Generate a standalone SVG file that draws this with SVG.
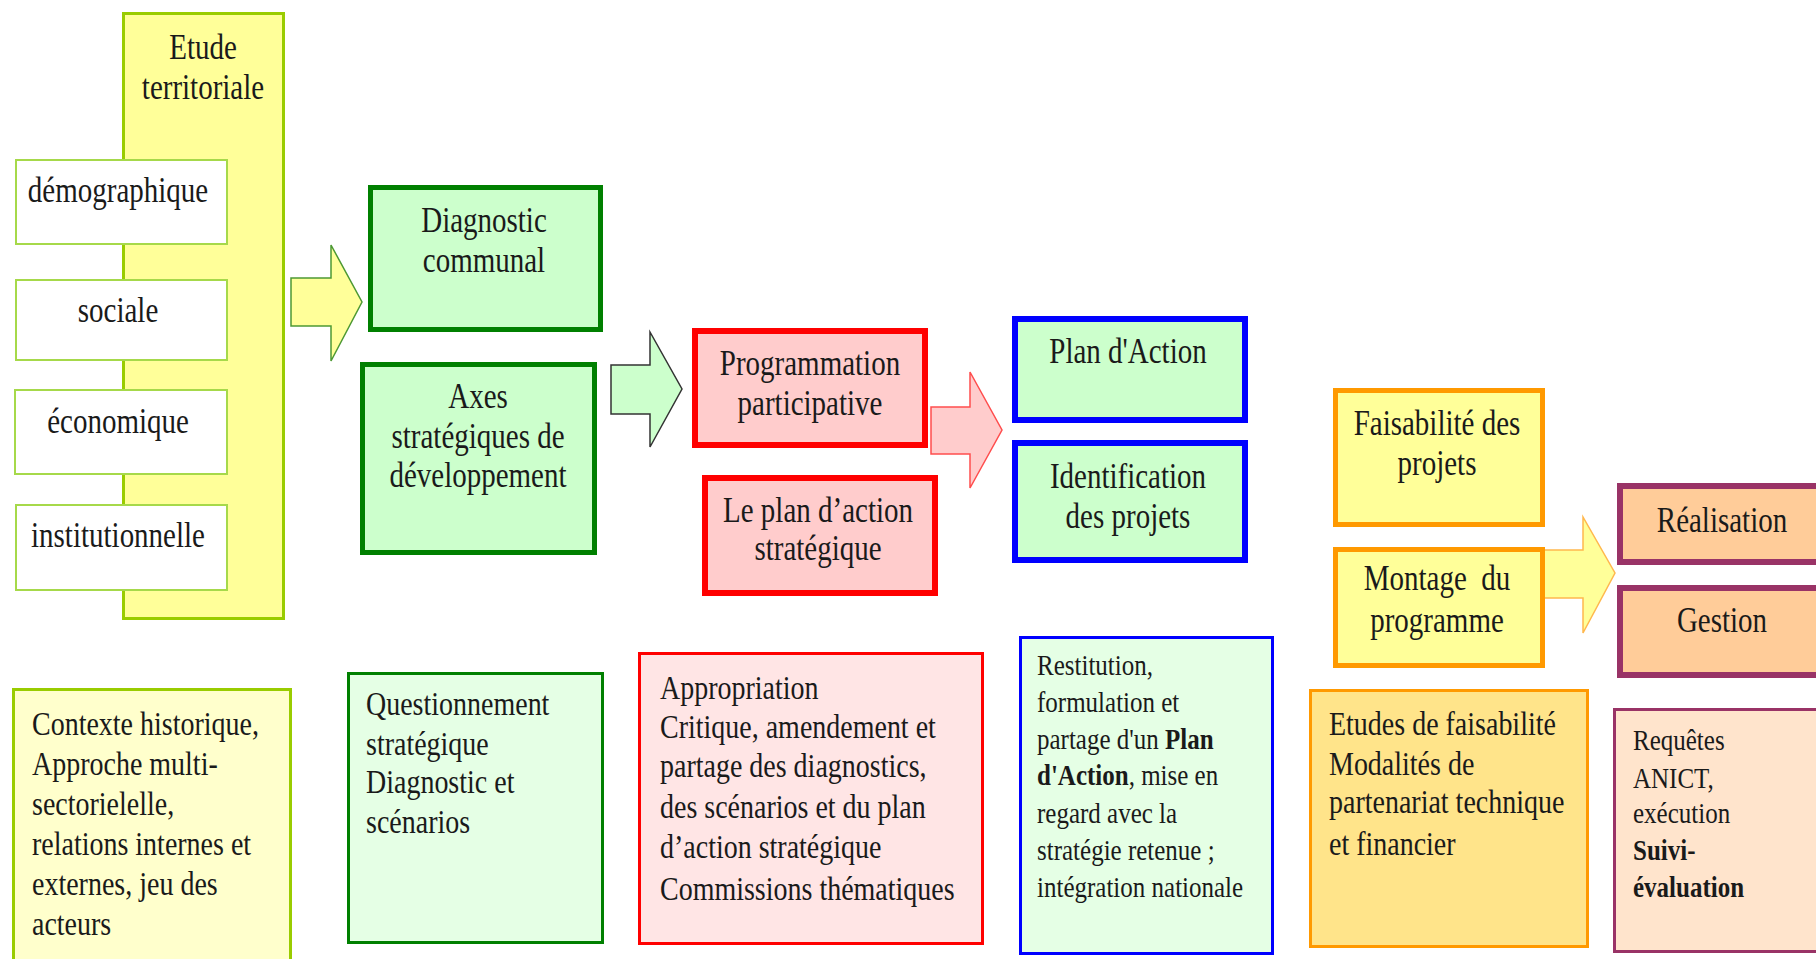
<svg xmlns="http://www.w3.org/2000/svg" width="1816" height="959" viewBox="0 0 1816 959">
<style>
text{font-family:"Liberation Serif","Times New Roman",serif;fill:#1a1a1a;}
.t29{font-size:29px;text-anchor:middle;}
.t28{font-size:28px;}
.t24{font-size:25px;}
.t25{font-size:25px;}
.b{font-weight:bold;}
.yg{fill:#ffff99;stroke:#99cc00;stroke-width:3;}
.wh{fill:#ffffff;stroke:#a6d94a;stroke-width:2;}
.gr{fill:#ccffcc;stroke:#008000;stroke-width:5;}
.rd{fill:#ffcccc;stroke:#ff0000;stroke-width:6;}
.bl{fill:#ccffcc;stroke:#0000ff;stroke-width:6;}
.or{fill:#ffff99;stroke:#ff9900;stroke-width:5;}
.pu{fill:#ffcc99;stroke:#993366;stroke-width:6;}
.byg{fill:#ffffcc;stroke:#99cc00;stroke-width:3;}
.bgr{fill:#e5ffe5;stroke:#008000;stroke-width:3;}
.brd{fill:#ffe5e5;stroke:#ff0000;stroke-width:3;}
.bbl{fill:#e5ffe5;stroke:#0000ff;stroke-width:3;}
.bor{fill:#ffe48a;stroke:#ff9900;stroke-width:3;}
.bpu{fill:#ffe4cc;stroke:#993366;stroke-width:3;}
</style>
<rect width="1816" height="959" fill="#ffffff"/>

<g id="etude-territoriale">
<rect class="yg" x="123.5" y="13.5" width="160" height="605"/>
<text class="t29" transform="matrix(1 0 0 1.2 203 59)"><tspan x="0" y="0">Etude</tspan><tspan x="0" y="33.3">territoriale</tspan></text>
</g>
<g id="demographique">
<rect class="wh" x="16" y="160" width="211" height="84"/>
<text class="t29" transform="matrix(1 0 0 1.2 118 202)">démographique</text>
</g>
<g id="sociale">
<rect class="wh" x="16" y="280" width="211" height="80"/>
<text class="t29" transform="matrix(1 0 0 1.2 118 322)">sociale</text>
</g>
<g id="economique">
<rect class="wh" x="15" y="390" width="212" height="84"/>
<text class="t29" transform="matrix(1 0 0 1.2 118 433)">économique</text>
</g>
<g id="institutionnelle">
<rect class="wh" x="16" y="505" width="211" height="85"/>
<text class="t29" transform="matrix(1 0 0 1.2 118 547)">institutionnelle</text>
</g>

<g id="connectors">
<polygon points="291,278 331,278 331,245 362,302 331,361 331,326 291,326" fill="#ffff99" stroke="#4d9933" stroke-width="1.5"/>
<polygon points="611,365 650,365 650,332 682,389 650,447 650,414 611,414" fill="#ccffcc" stroke="#333333" stroke-width="1.5"/>
<polygon points="931,407 970,407 970,372 1002,430 970,488 970,454 931,454" fill="#ffcccc" stroke="#ff4d4d" stroke-width="1.5"/>
<polygon points="1543,550 1583,550 1583,517 1615,573 1583,633 1583,598 1543,598" fill="#ffff99" stroke="#ffb84d" stroke-width="1.5"/>
</g>

<g id="diagnostic-communal">
<rect class="gr" x="370.5" y="187.5" width="230" height="142"/>
<text class="t29" transform="matrix(1 0 0 1.2 484 232)"><tspan x="0" y="0">Diagnostic</tspan><tspan x="0" y="33.3">communal</tspan></text>
</g>
<g id="axes-strategiques">
<rect class="gr" x="362.5" y="364.5" width="232" height="188"/>
<text class="t29" transform="matrix(1 0 0 1.2 478 408)"><tspan x="0" y="0">Axes</tspan><tspan x="0" y="33.3">stratégiques de</tspan><tspan x="0" y="65.8">développement</tspan></text>
</g>
<g id="programmation-participative">
<rect class="rd" x="695" y="331" width="230" height="114"/>
<text class="t29" transform="matrix(1 0 0 1.2 810 375)"><tspan x="0" y="0">Programmation</tspan><tspan x="0" y="33.3">participative</tspan></text>
</g>
<g id="plan-action-strategique">
<rect class="rd" x="705" y="478" width="230" height="115"/>
<text class="t29" transform="matrix(1 0 0 1.2 818 522)"><tspan x="0" y="0">Le plan d’action</tspan><tspan x="0" y="31.7">stratégique</tspan></text>
</g>
<g id="plan-action">
<rect class="bl" x="1015" y="319" width="230" height="101"/>
<text class="t29" transform="matrix(1 0 0 1.2 1128 363)">Plan d'Action</text>
</g>
<g id="identification-projets">
<rect class="bl" x="1015" y="443" width="230" height="117"/>
<text class="t29" transform="matrix(1 0 0 1.2 1128 488)"><tspan x="0" y="0">Identification</tspan><tspan x="0" y="33.3">des projets</tspan></text>
</g>
<g id="faisabilite-projets">
<rect class="or" x="1335.5" y="390.5" width="207" height="134"/>
<text class="t29" transform="matrix(1 0 0 1.2 1437 435)"><tspan x="0" y="0">Faisabilité des</tspan><tspan x="0" y="33.3">projets</tspan></text>
</g>
<g id="montage-programme">
<rect class="or" x="1335.5" y="549.5" width="207" height="116"/>
<text class="t29" transform="matrix(1 0 0 1.2 1437 590)"><tspan x="0" y="0">Montage&#160; du</tspan><tspan x="0" y="35">programme</tspan></text>
</g>
<g id="realisation">
<rect class="pu" x="1620" y="486" width="210" height="76"/>
<text class="t29" transform="matrix(1 0 0 1.2 1722 532)">Réalisation</text>
</g>
<g id="gestion">
<rect class="pu" x="1620" y="588" width="210" height="87"/>
<text class="t29" transform="matrix(1 0 0 1.2 1722 632)">Gestion</text>
</g>

<g id="contexte">
<rect class="byg" x="13.5" y="689.5" width="277" height="285"/>
<text class="t28" transform="matrix(1 0 0 1.2 32 735)"><tspan x="0" y="0">Contexte historique,</tspan><tspan x="0" y="33.3">Approche multi-</tspan><tspan x="0" y="66.7">sectorielelle,</tspan><tspan x="0" y="100">relations internes et</tspan><tspan x="0" y="133.3">externes, jeu des</tspan><tspan x="0" y="166.7">acteurs</tspan></text>
</g>
<g id="questionnement">
<rect class="bgr" x="348.5" y="673.5" width="254" height="269"/>
<text class="t28" transform="matrix(1 0 0 1.2 366 715)"><tspan x="0" y="0">Questionnement</tspan><tspan x="0" y="33.3">stratégique</tspan><tspan x="0" y="65">Diagnostic et</tspan><tspan x="0" y="98.3">scénarios</tspan></text>
</g>
<g id="appropriation">
<rect class="brd" x="639.5" y="653.5" width="343" height="290"/>
<text class="t28" transform="matrix(1 0 0 1.2 660 699)"><tspan x="0" y="0">Appropriation</tspan><tspan x="0" y="32.5">Critique, amendement et</tspan><tspan x="0" y="65">partage des diagnostics,</tspan><tspan x="0" y="99.2">des scénarios et du plan</tspan><tspan x="0" y="132.5">d’action stratégique</tspan><tspan x="0" y="167.5">Commissions thématiques</tspan></text>
</g>
<g id="restitution">
<rect class="bbl" x="1020.5" y="637.5" width="252" height="316"/>
<text class="t24" transform="matrix(1 0 0 1.2 1037 675)"><tspan x="0" y="0">Restitution,</tspan><tspan x="0" y="31">formulation et</tspan><tspan x="0" y="62">partage d'un <tspan class="b">Plan</tspan></tspan><tspan x="0" y="92"><tspan class="b">d'Action</tspan>, mise en</tspan><tspan x="0" y="123">regard avec la</tspan><tspan x="0" y="154">stratégie retenue ;</tspan><tspan x="0" y="185">intégration nationale</tspan></text>
</g>
<g id="etudes-faisabilite">
<rect class="bor" x="1310.5" y="690.5" width="277" height="256"/>
<text class="t28" transform="matrix(1 0 0 1.2 1329 735)"><tspan x="0" y="0">Etudes de faisabilité</tspan><tspan x="0" y="33.3">Modalités de</tspan><tspan x="0" y="65">partenariat technique</tspan><tspan x="0" y="100">et financier</tspan></text>
</g>
<g id="requetes">
<rect class="bpu" x="1614.5" y="709.5" width="220" height="242"/>
<text class="t25" transform="matrix(1 0 0 1.2 1633 750)"><tspan x="0" y="0">Requêtes</tspan><tspan x="0" y="31.7">ANICT,</tspan><tspan x="0" y="60.8">exécution</tspan><tspan x="0" y="91.7" class="b">Suivi-</tspan><tspan x="0" y="122.5" class="b">évaluation</tspan></text>
</g>
</svg>
